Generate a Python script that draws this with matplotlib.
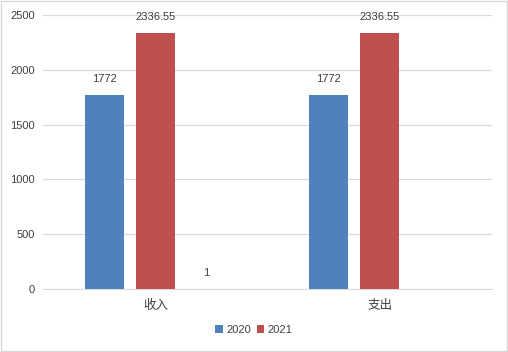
import numpy as np
import matplotlib.pyplot as plt

plt.rcParams['font.family'] = ['Liberation Sans', 'Noto Sans CJK SC', 'DejaVu Sans']

categories = ['收入', '支出']
values_2020 = [1772, 1772]
values_2021 = [2336.55, 2336.55]
values_extra = [1, np.nan]

fig = plt.figure(figsize=(5.08, 3.52), dpi=100)
ax = fig.add_axes([0.0846, 0.179, 0.884, 0.778])

x = np.arange(len(categories))
w = 0.173
step = 0.227
txt = '#404040'

b1 = ax.bar(x - step, values_2020, w, color='#4F81BD', label='2020', zorder=3)
b2 = ax.bar(x, values_2021, w, color='#C0504D', label='2021', zorder=3)
b3 = ax.bar(x + step, values_extra, w, color='#9BBB59', zorder=3)

for bars, vals in [(b1, values_2020), (b2, values_2021), (b3, values_extra)]:
    for rect, v in zip(bars, vals):
        if np.isnan(v):
            continue
        lab = f'{v:g}'
        ax.annotate(lab, (rect.get_x() + rect.get_width() / 2, v),
                    xytext=(0, 8), textcoords='offset points',
                    ha='center', va='bottom', fontsize=8, color=txt)

ax.set_xlim(-0.5, 1.5)
ax.set_ylim(0, 2500)
ax.set_yticks(range(0, 2501, 500))
ax.set_xticks(x)
ax.set_xticklabels(categories, fontsize=9, color=txt)
ax.tick_params(axis='y', labelsize=8, colors=txt, length=0, pad=6)
ax.tick_params(axis='x', length=0, pad=8)
ax.grid(axis='y', color='#D9D9D9', linewidth=0.9, zorder=0)
for s in ['top', 'right', 'left']:
    ax.spines[s].set_visible(False)
ax.spines['bottom'].set_color('#D9D9D9')

fig.legend(handles=[b1, b2], labels=['2020', '2021'], loc='center',
           bbox_to_anchor=(0.5, 1 - 330 / 352), ncol=2, frameon=False,
           fontsize=8, handlelength=0.7, handleheight=0.7, handletextpad=0.3,
           columnspacing=0.5, labelcolor=txt)

fig.patches.append(plt.Rectangle((0.002, 0.003), 0.996, 0.994, transform=fig.transFigure,
                                 fill=False, edgecolor='#D9D9D9', linewidth=1))

fig.savefig('out.png', dpi=100)
